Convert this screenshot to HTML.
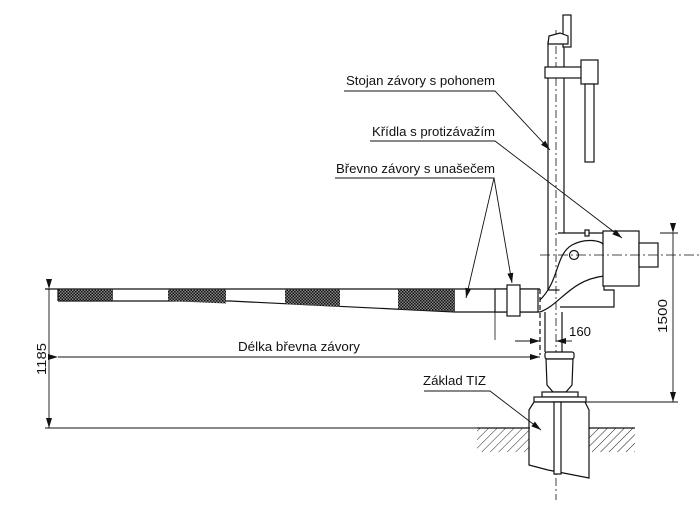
<!DOCTYPE html>
<html><head><meta charset="utf-8"><style>
html,body{margin:0;padding:0;background:#fff;width:700px;height:514px;overflow:hidden}
text{font-family:"Liberation Sans",sans-serif;font-size:13px;fill:#111}
</style></head><body>
<svg width="700" height="514" viewBox="0 0 700 514" xmlns="http://www.w3.org/2000/svg">
<defs>
<pattern id="chk" width="3" height="3" patternUnits="userSpaceOnUse">
<rect width="3" height="3" fill="#888"/><rect width="1.5" height="1.5" fill="#111"/><rect x="1.5" y="1.5" width="1.5" height="1.5" fill="#111"/>
</pattern>
<pattern id="hatch" width="6" height="6" patternUnits="userSpaceOnUse" patternTransform="rotate(45)">
<line x1="0" y1="0" x2="0" y2="6" stroke="#222" stroke-width="1"/>
</pattern>
<marker id="ar" markerWidth="10" markerHeight="6" refX="10" refY="3" orient="auto" markerUnits="userSpaceOnUse">
<path d="M0,0 L10,3 L0,6 z" fill="#111"/>
</marker>
</defs>
<g stroke="#111" stroke-width="1.2" fill="none">
<rect x="548" y="42" width="16" height="248" fill="#fff"/>
<line x1="556" y1="30" x2="556" y2="500" stroke-dasharray="8,3,2,3" stroke-width="0.8"/>
<rect x="563" y="15" width="8" height="32" fill="#fff"/>
<path d="M548,44 L549,36 L560,33 L568,36 L568,44 z" fill="#fff"/>
<rect x="545" y="67" width="40" height="11" fill="#fff"/>
<rect x="581" y="60" width="17" height="24" fill="#fff"/>
<rect x="585" y="84" width="9" height="78" fill="#fff"/>
<path d="M558,233 L604,233 L604,290 L614,290 L614,307 L560,307" fill="#fff"/>
<path d="M540,300 C560,280 555,255 572,245 C585,238 600,240 604,245" />
<path d="M540,312 C560,305 570,280 604,276" />
<circle cx="574" cy="255" r="4.5"/>
<rect x="585" y="230" width="4" height="6" fill="#fff"/>
<rect x="603" y="231" width="36" height="55" fill="#fff"/>
<rect x="639" y="243" width="19" height="24" fill="#fff"/>
<line x1="540" y1="255" x2="700" y2="255" stroke-dasharray="10,3,2,3" stroke-width="0.8"/>
<path d="M45,289 L540,289" />
<path d="M58,301 L230,301 L455,312 L540,312"/>
<rect x="58" y="289.6" width="55" height="11" fill="url(#chk)" stroke="none"/>
<path d="M168,289.6 L226,289.6 L226,303.5 L168,301 z" fill="url(#chk)" stroke="none"/>
<path d="M285,289.6 L340,289.6 L340,306.5 L285,304 z" fill="url(#chk)" stroke="none"/>
<path d="M398,289.6 L455,289.6 L455,311.5 L398,309 z" fill="url(#chk)" stroke="none"/>
<line x1="58" y1="289" x2="58" y2="301"/>
<rect x="495" y="289" width="43" height="23" fill="#fff"/>
<rect x="507" y="285" width="13" height="31" fill="#fff"/>
<line x1="540" y1="289" x2="540" y2="355" stroke-dasharray="5,3"/>
<line x1="545" y1="312" x2="545" y2="352"/><line x1="562" y1="312" x2="562" y2="352"/>
<line x1="495" y1="312" x2="495" y2="340" stroke-width="0.8"/>
<rect x="545" y="352" width="29" height="7" rx="2" fill="#fff"/>
<path d="M546,359 L573,359 L572,385 L566,392 L553,392 L547,385 z" fill="#fff"/>
<rect x="542" y="392" width="36" height="5" fill="#fff"/>
<rect x="534" y="397" width="52" height="5" fill="#fff"/>
<path d="M529,410 L534,402 L585,402 L589,410 L589,478 L548,470 L529,465 z" fill="#fff"/>
<rect x="554" y="402" width="7" height="72" fill="#fff"/>
<rect x="477" y="428" width="52" height="24" fill="url(#hatch)" stroke="none"/>
<rect x="589" y="428" width="46" height="24" fill="url(#hatch)" stroke="none"/>
<line x1="477" y1="428" x2="529" y2="428"/><line x1="589" y1="428" x2="635" y2="428"/>
</g>
<g stroke="#111" stroke-width="0.9" fill="none">
<line x1="49" y1="289" x2="49" y2="428" marker-start="url(#ar)" marker-end="url(#ar)"/>
<line x1="45" y1="289" x2="58" y2="289"/>
<line x1="45" y1="428" x2="530" y2="428"/>
<line x1="58" y1="357" x2="540" y2="357" marker-start="url(#ar)" marker-end="url(#ar)"/>
<line x1="515" y1="341" x2="540" y2="341" marker-end="url(#ar)"/>
<line x1="572" y1="341" x2="556" y2="341" marker-end="url(#ar)"/>
<line x1="673" y1="233" x2="673" y2="402" marker-start="url(#ar)" marker-end="url(#ar)"/>
<line x1="660" y1="233" x2="678" y2="233"/>
<line x1="580" y1="402" x2="678" y2="402"/>
<polyline points="344,91 495,91 550,150" marker-end="url(#ar)"/>
<polyline points="370,141 495,141 622,238" marker-end="url(#ar)"/>
<polyline points="335,178 494,178 466,298" marker-end="url(#ar)"/>
<line x1="494" y1="178" x2="512" y2="283" marker-end="url(#ar)"/>
<polyline points="424,391 490,391 541,430" marker-end="url(#ar)"/>
</g>
<text x="346" y="85" textLength="149" lengthAdjust="spacingAndGlyphs">Stojan závory s pohonem</text>
<text x="372" y="136" textLength="123" lengthAdjust="spacingAndGlyphs">Křídla s protizávažím</text>
<text x="336" y="173" textLength="159" lengthAdjust="spacingAndGlyphs">Břevno závory s unašečem</text>
<text x="238" y="351" textLength="122" lengthAdjust="spacingAndGlyphs">Délka břevna závory</text>
<text x="569" y="336" textLength="22" lengthAdjust="spacingAndGlyphs">160</text>
<text x="423" y="385" textLength="63" lengthAdjust="spacingAndGlyphs">Základ TIZ</text>
<text transform="translate(46,375) rotate(-90)" textLength="32" lengthAdjust="spacingAndGlyphs">1185</text>
<text transform="translate(667,333) rotate(-90)" textLength="34" lengthAdjust="spacingAndGlyphs">1500</text>
</svg>
</body></html>
